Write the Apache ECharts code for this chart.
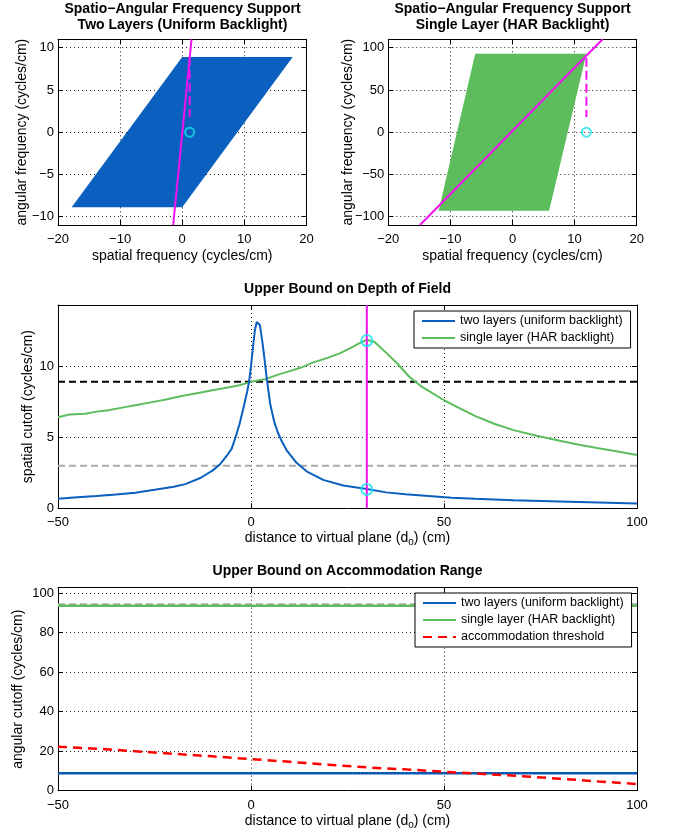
<!DOCTYPE html>
<html>
<head>
<meta charset="utf-8">
<script src="https://cdn.jsdelivr.net/npm/echarts@6/dist/echarts.min.js"></script>
<style>
  html, body { margin: 0; padding: 0; background: #fff; }
  #chart { width: 673px; height: 833px; }
</style>
</head>
<body>
<div id="chart"></div>
<script>
// ---- data ----
// frequency support polygons (vertices)
const twoLayerPolyX = [0, 17.8, 0, -17.8];
const twoLayerPolyY = [8.9, 8.9, -8.9, -8.9];
const oneLayerPolyX = [-6, 11.9, 5.9, -11.9];
const oneLayerPolyY = [93, 93, -93, -93];

// slice lines and markers in the top panels
const twoLayerSlice = [[-1.45, -11], [1.5, 11]];
const twoLayerDrop = [[1.2, 8.9], [1.2, 1.8]];
const twoLayerMark = [[1.2, 0]];
const oneLayerSlice = [[-14.9, -110], [14.5, 110]];
const oneLayerDrop = [[11.9, 88], [11.9, 18]];
const oneLayerMark = [[11.9, 0]];

// depth of field panel
const dofBlueX = [-50, -45, -40, -35, -30, -25, -20, -17, -13, -10, -8, -6, -5, -4, -3, -2, -1, -0.5, 0, 0.5, 1, 1.5, 2.3, 3, 3.5, 4, 5, 6, 7, 8, 9.2, 11.8, 14.4, 18.7, 23.9, 30, 35, 40, 46, 52, 58, 68, 80, 90, 100];
const dofBlueY = [0.68, 0.78, 0.87, 0.97, 1.1, 1.3, 1.52, 1.7, 2.15, 2.65, 3.1, 3.8, 4.2, 5.0, 5.9, 7.0, 8.2, 8.9, 10.0, 11.3, 12.5, 13.1, 12.9, 11.6, 10.5, 9.3, 7.3, 6.1, 5.3, 4.7, 4.1, 3.2, 2.6, 2.0, 1.6, 1.36, 1.12, 0.98, 0.87, 0.75, 0.67, 0.56, 0.47, 0.4, 0.33];
const dofGreenX = [-50, -47, -43, -40, -37, -33, -30, -26, -22, -18, -14, -10, -6, -3, 0, 4, 7, 10, 13, 16, 20, 23, 26, 28, 30, 32, 35, 38, 41, 44, 47, 50, 54, 58, 63, 68, 74, 80, 85, 90, 95, 100];
const dofGreenY = [6.4, 6.6, 6.65, 6.8, 6.9, 7.1, 7.25, 7.45, 7.65, 7.9, 8.1, 8.3, 8.5, 8.65, 8.9, 9.1, 9.4, 9.65, 9.9, 10.25, 10.6, 10.9, 11.3, 11.6, 11.85, 11.7, 10.95, 10.15, 9.25, 8.6, 8.1, 7.6, 7.05, 6.5, 5.95, 5.5, 5.1, 4.75, 4.47, 4.22, 4.0, 3.75];
const dofBlackLevel = [[-50, 8.9], [100, 8.9]];
const dofGrayLevel = [[-50, 3.0], [100, 3.0]];
const dofPlane = [[30, 0], [30, 14.3]];
const dofMarks = [[30, 11.8], [30, 1.33]];

// accommodation panel
const accX = [-50, -40, -30, -20, -10, 0, 10, 20, 30, 40, 50, 60, 70, 80, 90, 100];
const accThreshold = [22.3, 21.3, 20.0, 18.7, 17.4, 16.0, 14.6, 13.2, 11.8, 10.8, 9.6, 8.5, 7.4, 6.1, 4.7, 3.4];
const accTwoLayers = [[-50, 8.9], [100, 8.9]];
const accSingleLayer = [[-50, 93.7], [100, 93.7]];
const accGrayLevel = [[-50, 94.4], [100, 94.4]];

const legendNames = ['two layers (uniform backlight)', 'single layer (HAR backlight)', 'accommodation threshold'];

// ---- styling ----
const FONT = '"Liberation Sans", Arial, Helvetica, sans-serif';
const BLUE = '#0b5fbf';
const GREEN = '#5dbd5d';
const MAGENTA = '#f012f0';
const CYAN = '#14e2ee';
const minus = v => String(v).replace('-', '\u2212');

const grids = [
  { left: 58, top: 39.3, width: 248.4, height: 185.7 },
  { left: 388.3, top: 39.3, width: 248.4, height: 185.7 },
  { left: 58, top: 305, width: 579, height: 203.3 },
  { left: 58, top: 587.7, width: 579, height: 203 }
].map(g => Object.assign({ outerBoundsMode: 'none', containLabel: false }, g));

const xAxes = [];
const yAxes = [];

function boxAxes(g, xs, ys) {
  const line = { show: true, onZero: false, lineStyle: { color: '#000', width: 1 } };
  const tick = { show: true, inside: true, length: 5, lineStyle: { color: '#000' } };
  const label = { color: '#000', fontSize: 13, fontFamily: FONT, formatter: minus };
  const split = { show: true, lineStyle: { color: '#222', width: 1, type: [1, 3] } };
  const nameStyle = { color: '#000', fontSize: 14, fontFamily: FONT };
  xAxes.push(Object.assign({
    type: 'value', gridIndex: g, position: 'bottom',
    axisLine: line, axisTick: tick,
    axisLabel: Object.assign({ margin: 8 }, label, xs.label || {}),
    splitLine: split, nameMoveOverlap: false,
    nameLocation: 'middle', nameTextStyle: Object.assign({}, nameStyle, xs.nameStyle || {})
  }, xs.opts));
  xAxes.push(Object.assign({
    type: 'value', gridIndex: g, position: 'top',
    axisLine: line, axisTick: tick, axisLabel: { show: false }, splitLine: { show: false }
  }, xs.bare));
  yAxes.push(Object.assign({
    type: 'value', gridIndex: g, position: 'left',
    axisLine: line, axisTick: tick,
    axisLabel: Object.assign({ margin: 4 }, label, ys.label || {}),
    splitLine: split, nameMoveOverlap: false,
    nameLocation: 'middle', nameRotate: 90, nameTextStyle: nameStyle
  }, ys.opts));
  yAxes.push(Object.assign({
    type: 'value', gridIndex: g, position: 'right',
    axisLine: line, axisTick: tick, axisLabel: { show: false }, splitLine: { show: false }
  }, ys.bare));
}

const distName = 'distance to virtual plane (d{s|o}) (cm)';
const distStyle = { rich: { s: { fontSize: 10, fontFamily: FONT, color: '#000', padding: [9, 0, 0, 0] } } };

boxAxes(0,
  { opts: { min: -20, max: 20, interval: 10, name: 'spatial frequency (cycles/cm)', nameGap: 24 }, bare: { min: -20, max: 20, interval: 10 } },
  { opts: { min: -11, max: 11, splitNumber: 5, name: 'angular frequency (cycles/cm)', nameGap: 29 }, bare: { min: -11, max: 11, splitNumber: 5 },
    label: { showMinLabel: false, showMaxLabel: false } });
boxAxes(1,
  { opts: { min: -20, max: 20, interval: 10, name: 'spatial frequency (cycles/cm)', nameGap: 24 }, bare: { min: -20, max: 20, interval: 10 } },
  { opts: { min: -110, max: 110, splitNumber: 5, name: 'angular frequency (cycles/cm)', nameGap: 33 }, bare: { min: -110, max: 110, splitNumber: 5 },
    label: { showMinLabel: false, showMaxLabel: false } });
boxAxes(2,
  { opts: { min: -50, max: 100, interval: 50, name: distName, nameGap: 20 }, bare: { min: -50, max: 100, interval: 50 }, nameStyle: distStyle },
  { opts: { min: 0, max: 14.3, interval: 5, name: 'spatial cutoff (cycles/cm)', nameGap: 23 }, bare: { min: 0, max: 14.3, interval: 5 },
    label: { showMaxLabel: false } });
boxAxes(3,
  { opts: { min: -50, max: 100, interval: 50, name: distName, nameGap: 21 }, bare: { min: -50, max: 100, interval: 50 }, nameStyle: distStyle },
  { opts: { min: 0, max: 102.8, interval: 20, name: 'angular cutoff (cycles/cm)', nameGap: 33 }, bare: { min: 0, max: 102.8, interval: 20 },
    label: { showMaxLabel: false } });

const zip = (xs, ys) => xs.map((x, i) => [x, ys[i]]);

function polygonSeries(g, xs, ys, color) {
  return {
    type: 'custom', xAxisIndex: 2 * g, yAxisIndex: 2 * g, silent: true,
    data: zip(xs, ys),
    renderItem: (params, api) => {
      if (params.dataIndex !== 0) return null;
      return {
        type: 'polygon',
        shape: { points: xs.map((x, i) => api.coord([x, ys[i]])) },
        style: { fill: color }
      };
    }
  };
}

function lineSeries(g, name, data, color, width, type, z) {
  return {
    type: 'line', name: name, xAxisIndex: 2 * g, yAxisIndex: 2 * g,
    data: data, symbol: 'none', showSymbol: false, silent: true, animation: false,
    lineStyle: { color: color, width: width, type: type || 'solid' },
    itemStyle: { color: color }, z: z || 2
  };
}

function markSeries(g, data, size) {
  return {
    type: 'scatter', xAxisIndex: 2 * g, yAxisIndex: 2 * g, data: data, silent: true,
    symbol: 'circle', symbolSize: size,
    itemStyle: { color: 'rgba(0,0,0,0)', borderColor: CYAN, borderWidth: 2 }, z: 5
  };
}

const series = [
  polygonSeries(0, twoLayerPolyX, twoLayerPolyY, BLUE),
  lineSeries(0, 'slice0', twoLayerSlice, MAGENTA, 2),
  lineSeries(0, 'drop0', twoLayerDrop, MAGENTA, 2, [9, 4]),
  markSeries(0, twoLayerMark, 9),

  polygonSeries(1, oneLayerPolyX, oneLayerPolyY, GREEN),
  lineSeries(1, 'slice1', oneLayerSlice, MAGENTA, 2),
  lineSeries(1, 'drop1', oneLayerDrop, MAGENTA, 2, [9, 4]),
  markSeries(1, oneLayerMark, 9),

  lineSeries(2, 'black level', dofBlackLevel, '#000', 2, [7, 4]),
  lineSeries(2, 'gray level', dofGrayLevel, '#aaa', 2, [7, 4]),
  lineSeries(2, legendNames[1], zip(dofGreenX, dofGreenY), GREEN, 2, 'solid', 3),
  lineSeries(2, legendNames[0], zip(dofBlueX, dofBlueY), BLUE, 2, 'solid', 3),
  lineSeries(2, 'plane', dofPlane, MAGENTA, 2, 'solid', 4),
  markSeries(2, dofMarks, 11),

  lineSeries(3, 'gray top', accGrayLevel, '#aaa', 2, [7, 4]),
  lineSeries(3, legendNames[1], accSingleLayer, GREEN, 2.5, 'solid', 3),
  lineSeries(3, legendNames[0], accTwoLayers, BLUE, 2.5, 'solid', 3),
  lineSeries(3, 'black dots', accTwoLayers, 'rgba(0,0,0,0.6)', 1, [1, 3], 3),
  lineSeries(3, legendNames[2], zip(accX, accThreshold), '#ff0000', 2.5, [9, 6], 4)
];

const legendBase = {
  orient: 'vertical', selectedMode: false,
  backgroundColor: '#fff', borderColor: '#000', borderWidth: 1,
  padding: [3, 8, 3, 7], itemWidth: 33, itemHeight: 14, itemGap: 3,
  itemStyle: { color: 'rgba(0,0,0,0)', borderWidth: 0, opacity: 0 },
  textStyle: { fontSize: 12.5, fontFamily: FONT, color: '#000', lineHeight: 14 }
};

const titleStyle = { fontSize: 14, fontWeight: 'bold', fontFamily: FONT, color: '#000', lineHeight: 16 };

const chart = echarts.init(document.getElementById('chart'), null, { renderer: 'canvas' });
chart.setOption({
  animation: false,
  backgroundColor: '#fff',
  title: [
    { text: 'Spatio\u2212Angular Frequency Support\nTwo Layers (Uniform Backlight)', left: 182.5, top: 1, textAlign: 'center', padding: 0, textStyle: titleStyle },
    { text: 'Spatio\u2212Angular Frequency Support\nSingle Layer (HAR Backlight)', left: 512.5, top: 1, textAlign: 'center', padding: 0, textStyle: titleStyle },
    { text: 'Upper Bound on Depth of Field', left: 347.5, top: 281, textAlign: 'center', padding: 0, textStyle: titleStyle },
    { text: 'Upper Bound on Accommodation Range', left: 347.5, top: 563, textAlign: 'center', padding: 0, textStyle: titleStyle }
  ],
  legend: [
    Object.assign({ data: legendNames.slice(0, 2), left: 414, top: 311 }, legendBase),
    Object.assign({ data: legendNames, left: 415, top: 593 }, legendBase)
  ],
  grid: grids,
  xAxis: xAxes,
  yAxis: yAxes,
  series: series
});
</script>
</body>
</html>
